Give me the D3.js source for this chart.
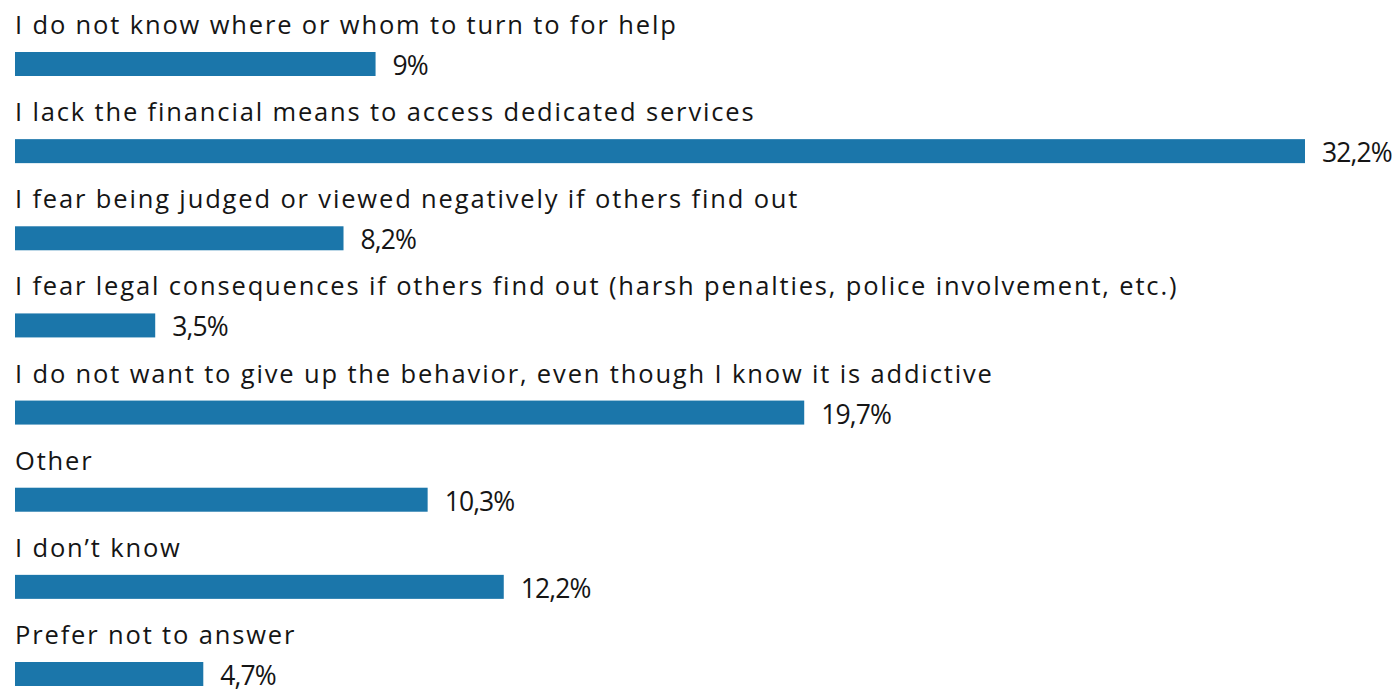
<!DOCTYPE html>
<html>
<head>
<meta charset="utf-8">
<script src="https://cdn.jsdelivr.net/npm/d3@7"></script>
<style>
  html, body { margin: 0; padding: 0; background: #ffffff; }
  svg { display: block; }
  text { font-family: "Open Sans", "Noto Sans", sans-serif; fill: #151515; }
</style>
</head>
<body>
<svg id="chart" width="1400" height="689"></svg>
<script>
// Reasons for not seeking help (share of respondents, %)
const categories = [
  "I do not know where or whom to turn to for help",
  "I lack the financial means to access dedicated services",
  "I fear being judged or viewed negatively if others find out",
  "I fear legal consequences if others find out (harsh penalties, police involvement, etc.)",
  "I do not want to give up the behavior, even though I know it is addictive",
  "Other",
  "I don\u2019t know",
  "Prefer not to answer"
];
const values = [9, 32.2, 8.2, 3.5, 19.7, 10.3, 12.2, 4.7];
const valueLabels = ["9%", "32,2%", "8,2%", "3,5%", "19,7%", "10,3%", "12,2%", "4,7%"];

const rows = categories.map((c, i) => ({ cat: c, value: values[i], label: valueLabels[i] }));

const svg = d3.select("#chart");
const left = 15;
const barColor = "#1b76aa";

const x = d3.scaleLinear().domain([0, 32.2]).range([left, 1305]);
const y = d3.scaleBand()
  .domain(categories)
  .range([52, 686])
  .paddingInner(0.7246)
  .paddingOuter(0);

const g = svg.selectAll("g.row").data(rows).join("g").attr("class", "row");

g.append("rect")
  .attr("x", x(0))
  .attr("y", d => y(d.cat))
  .attr("width", d => x(d.value) - x(0))
  .attr("height", y.bandwidth())
  .attr("fill", barColor);

g.append("text")
  .attr("class", "cat")
  .attr("x", left)
  .attr("y", d => y(d.cat) - 18)
  .attr("font-size", 25.5)
  .attr("font-weight", 400)
  .attr("letter-spacing", 1.85)
  .text(d => d.cat);

g.append("text")
  .attr("class", "val")
  .attr("x", d => x(d.value) + 17)
  .attr("y", d => y(d.cat) + y.bandwidth() - 1)
  .attr("font-size", 26.5)
  .attr("font-weight", 400)
  .attr("letter-spacing", -0.9)
  .text(d => d.label);
</script>
</body>
</html>
